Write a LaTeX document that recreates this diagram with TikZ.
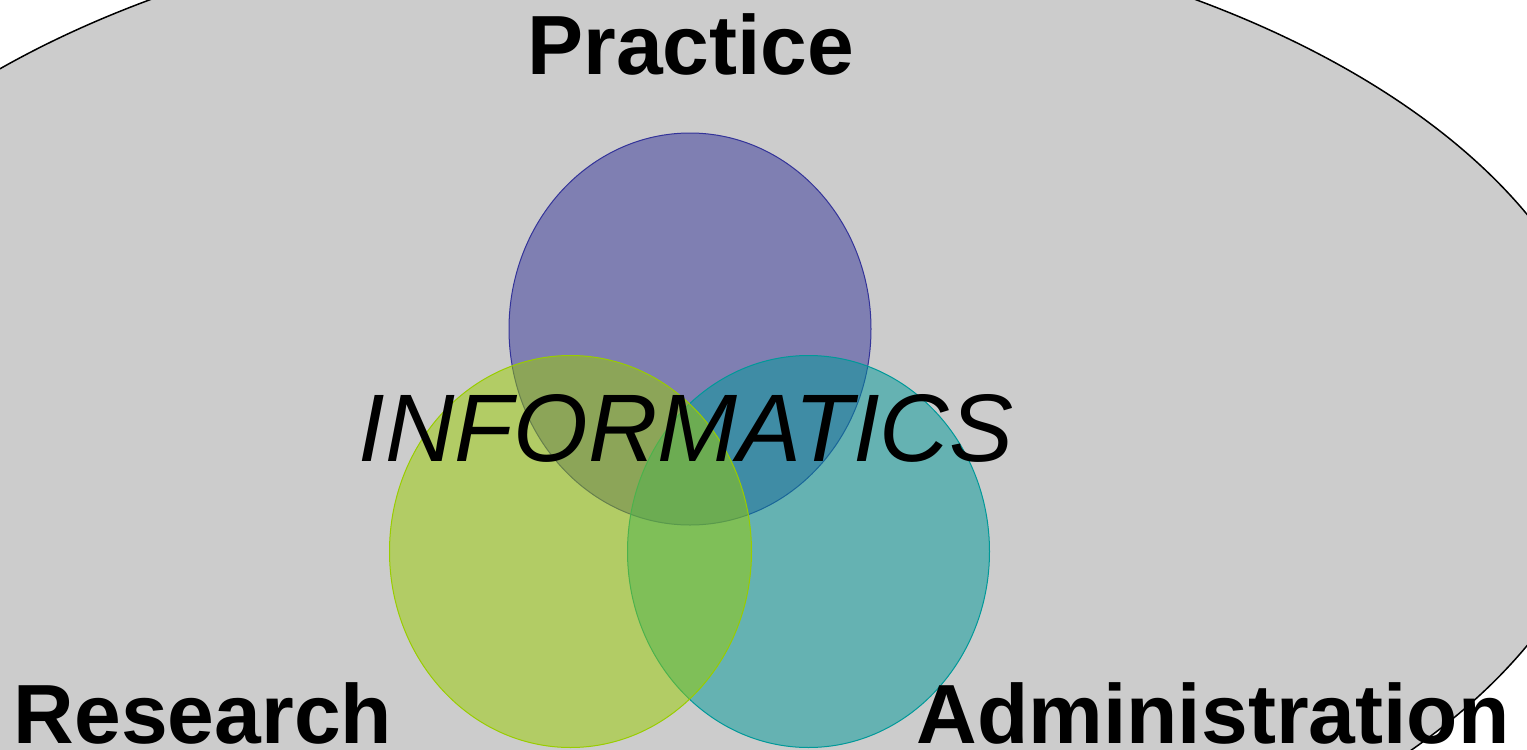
\documentclass[tikz,border=0pt]{standalone}
\usepackage{fontspec}
\setmainfont{Liberation Sans}
\definecolor{bggrey}{HTML}{CCCCCC}
\definecolor{cpurple}{HTML}{333399}
\definecolor{cgreen}{HTML}{99CC00}
\definecolor{cteal}{HTML}{009999}
\begin{document}
\begin{tikzpicture}[x=0.5pt,y=-0.5pt,
  venn/.style={fill opacity=0.5, draw opacity=1, line width=0.5pt},
  lbl/.style={inner sep=0pt, anchor=base, font=\fontsize{42pt}{48pt}\selectfont\bfseries},
  centrelbl/.style={inner sep=0pt, anchor=base, font=\fontsize{48pt}{56pt}\selectfont\itshape}]
  \useasboundingbox (0,0) rectangle (1527,750);
  \clip (0,0) rectangle (1527,750);
  \fill[white] (0,0) rectangle (1527,750);
  \draw[fill=bggrey, draw=black, line width=0.75pt] (673,430) ellipse [x radius=469.5pt, y radius=259pt];
  \draw[venn, fill=cpurple, draw=cpurple] (690,329) ellipse [x radius=90.5pt, y radius=98pt];
  \draw[venn, fill=cteal, draw=cteal] (808.5,551.5) ellipse [x radius=90.5pt, y radius=98pt];
  \draw[venn, fill=cgreen, draw=cgreen] (570.5,551.5) ellipse [x radius=90.5pt, y radius=98pt];
  \node[lbl] (practice) at (691,74) {Practice};
  \node[lbl] (research) at (203,743) {Research};
  \node[lbl] (admin) at (1213,743) {Administration};
  \node[centrelbl] (informatics) at (686,461) {INFORMATICS};
\end{tikzpicture}
\end{document}
